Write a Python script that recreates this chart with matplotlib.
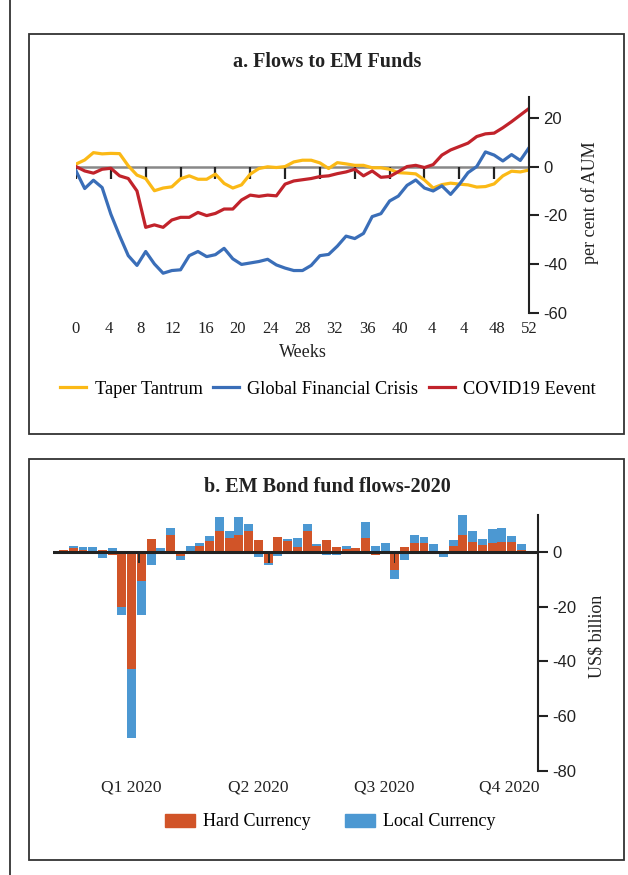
import matplotlib.pyplot as plt
from matplotlib.lines import Line2D
from matplotlib.patches import Patch, Rectangle

plt.rcParams['font.family'] = ['Liberation Serif', 'DejaVu Serif']

# Panel a: weekly flows to EM funds, per cent of AUM
weeks = list(range(53))
week_ticks = list(range(0, 52, 4))
week_labels = ['0', '4', '8', '12', '16', '20', '24', '28', '32', '36', '40',
               '4', '4', '48', '52']
# labels sit on an evenly spaced category grid over 0..52
label_pos = [k * 52 / (len(week_labels) - 1) for k in range(len(week_labels))]

taper = [1.0, 2.7, 5.7, 5.2, 5.4, 5.3, 0.3, -3.5, -4.9, -9.9, -8.8, -8.3, -5.0,
         -3.8, -5.2, -5.2, -3.1, -6.9, -8.8, -7.5, -3.1, -0.8, -0.1, -0.4, 0.0,
         1.9, 2.6, 2.6, 1.5, -0.8, 1.6, 1.1, 0.5, 0.5, -0.5, -0.5, -1.1, -2.5,
         -2.7, -3.0, -5.5, -8.8, -7.4, -6.8, -7.2, -7.5, -8.4, -8.2, -7.1, -3.8,
         -1.9, -2.2, -1.4]
gfc = [-1.8, -9.0, -5.6, -8.6, -19.5, -28.3, -36.5, -40.5, -34.8, -39.9, -43.7,
       -42.6, -42.3, -36.5, -34.8, -36.9, -36.1, -33.5, -37.8, -40.1, -39.5,
       -38.9, -38.0, -40.3, -41.6, -42.6, -42.6, -40.5, -36.5, -36.0, -32.6,
       -28.5, -29.5, -27.4, -20.5, -19.3, -14.1, -12.1, -7.7, -5.5, -8.8, -10.0,
       -7.9, -11.4, -7.3, -2.5, 0.0, 6.0, 4.7, 2.3, 4.9, 2.5, 7.7]
covid = [0.0, -1.8, -2.7, -1.1, -0.7, -3.8, -4.9, -10.0, -24.9, -23.9, -24.9,
         -21.9, -20.8, -20.8, -18.8, -20.1, -19.2, -17.4, -17.4, -13.7, -11.7,
         -12.2, -11.7, -12.0, -7.2, -5.9, -5.4, -4.9, -4.1, -3.8, -2.9, -2.2,
         -1.1, -3.8, -1.8, -4.4, -4.1, -2.1, 0.0, 0.5, -0.4, 0.8, 4.7, 6.8, 8.2,
         9.6, 12.3, 13.4, 13.7, 15.9, 18.4, 21.1, 23.8]

# Panel b: weekly EM bond fund flows 2020, US$ billion
hard = [0.6, 1.3, 0.6, 0, 0.6, -1.2, -20.1, -42.9, -10.6, 4.6, 0, 6.2, -1.5, 0,
        2.1, 3.9, 7.6, 5.0, 6.2, 7.6, 4.3, -4.1, 5.4, 3.9, 1.7, 7.6, 2.1, 4.3,
        1.7, 1.0, 1.3, 5.0, -1.2, 0, -6.7, 1.7, 3.2, 3.2, 0, 0, 2.1, 6.1, 3.5,
        2.4, 3.2, 3.5, 3.5, 0.6]
local = [-0.8, 0.7, 1.1, 1.7, -2.3, 1.3, -2.9, -24.9, -12.4, -4.8, 1.3, 2.4,
         -1.5, 2.1, 1.1, 1.8, 5.1, 2.6, 6.5, 2.6, -1.8, -0.6, -1.5, 0.7, 3.3,
         2.6, 0.7, -1.2, -1.2, 1.1, 0, 5.9, 2.1, 3.2, -3.3, -3.0, 2.9, 2.2, 2.8,
         -2.0, 2.2, 7.3, 4.0, 2.2, 5.1, 5.1, 2.2, 2.2]
net_pos = [7.75, 21.1, 34.0]
net_val = [-3.9, -3.9, -3.9]
quarters = ['Q1 2020', 'Q2 2020', 'Q3 2020', 'Q4 2020']
quarter_pos = [7.0, 20.0, 32.9, 45.8]

c_yel, c_blue, c_red = '#FBB916', '#3A6EB8', '#C1232B'
c_hard, c_local = '#D15428', '#4C98D2'
W, H = 628, 875

fig = plt.figure(figsize=(W / 100, H / 100), dpi=100)

def fx(px):
    return px / W

def fy(py):
    return 1 - py / H

# frames
for top, bot in [(34, 434), (459, 860)]:
    fig.patches.append(Rectangle((fx(29), fy(bot)), fx(624) - fx(29), fy(top) - fy(bot),
                                 transform=fig.transFigure, fill=False,
                                 edgecolor='#333333', linewidth=1.3))
fig.add_artist(Line2D([fx(10), fx(10)], [0, 1], transform=fig.transFigure,
                      color='#333333', linewidth=1.3))

# ---- panel a ----
ax = fig.add_axes([fx(76), fy(313), fx(529) - fx(76), fy(97) - fy(313)])
ax.plot(weeks, taper, color=c_yel, lw=2.3, label='Taper Tantrum')
ax.plot(weeks, gfc, color=c_blue, lw=2.3, label='Global Financial Crisis')
ax.plot(weeks, covid, color=c_red, lw=2.3, label='COVID19 Eevent')
ax.plot([0, 52], [0, 0], color='#888888', lw=1.8, zorder=1)
ax.vlines(week_ticks, -5.2, 0, color='#222222', lw=1.6, zorder=1)
ax.set_xlim(0, 52)
ax.set_ylim(-60, 28.5)
for s in ['top', 'left', 'bottom']:
    ax.spines[s].set_visible(False)
ax.spines['right'].set_linewidth(1.5)
ax.spines['right'].set_color('#222222')
ax.set_xticks(label_pos)
ax.set_xticklabels(week_labels, fontsize=12, color='#222222')
ax.tick_params(axis='x', length=0, pad=6)
ax.yaxis.tick_right()
ax.set_yticks([20, 0, -20, -40, -60])
ax.set_yticklabels(['20', '0', '-20', '-40', '-60'], family='Liberation Sans',
                   fontsize=12, color='#222222')
ax.tick_params(axis='y', length=7, width=1.5, color='#222222', pad=3)
ax.set_xlabel('Weeks', fontsize=13, color='#222222', labelpad=5)
fig.text(fx(590), fy(203), 'per cent of AUM', rotation=90, ha='center',
         va='center', fontsize=13, color='#222222')
fig.text(fx(327), fy(62), 'a. Flows to EM Funds', ha='center', va='center',
         fontsize=14.5, fontweight='bold', color='#222222')
fig.legend(handles=ax.get_lines()[:3], loc='center', bbox_to_anchor=(fx(328), fy(389)),
           ncol=3, frameon=False, fontsize=13.2, handlelength=1.45,
           handletextpad=0.45, columnspacing=0.55)

# ---- panel b ----
bx = fig.add_axes([fx(53), fy(771), fx(538) - fx(53), fy(515) - fy(771)])
idx = list(range(len(hard)))
local_bottom = [h if (h * l > 0) else 0 for h, l in zip(hard, local)]
bx.bar(idx, hard, width=0.92, color=c_hard, label='Hard Currency', zorder=2)
bx.bar(idx, local, width=0.92, bottom=local_bottom, color=c_local,
       label='Local Currency', zorder=2)
bx.bar(net_pos, net_val, width=0.14, color='#2a2a2a', zorder=3)
bx.axhline(0, color='#222222', lw=2.2, zorder=4)
bx.set_xlim(-1.08, 48.7)
bx.set_ylim(-80, 13.5)
for s in ['top', 'left', 'bottom']:
    bx.spines[s].set_visible(False)
bx.spines['right'].set_linewidth(1.5)
bx.spines['right'].set_color('#222222')
bx.set_xticks(quarter_pos)
bx.set_xticklabels(quarters, fontsize=12.5, color='#222222')
bx.tick_params(axis='x', length=0, pad=6)
bx.yaxis.tick_right()
bx.set_yticks([0, -20, -40, -60, -80])
bx.set_yticklabels(['0', '-20', '-40', '-60', '-80'], family='Liberation Sans',
                   fontsize=12, color='#222222')
bx.tick_params(axis='y', length=7, width=1.5, color='#222222', pad=3)
fig.text(fx(597), fy(636), 'US$ billion', rotation=90, ha='center',
         va='center', fontsize=13, color='#222222')
fig.text(fx(327), fy(487), 'b. EM Bond fund flows-2020', ha='center', va='center',
         fontsize=14.5, fontweight='bold', color='#222222')
fig.legend(handles=[Patch(color=c_hard, label='Hard Currency'),
                    Patch(color=c_local, label='Local Currency')],
           loc='center', bbox_to_anchor=(fx(330), fy(822)), ncol=2, frameon=False,
           fontsize=13, handlelength=1.65, handleheight=0.75,
           handletextpad=0.45, columnspacing=1.9)

fig.savefig('out.png', dpi=100)
